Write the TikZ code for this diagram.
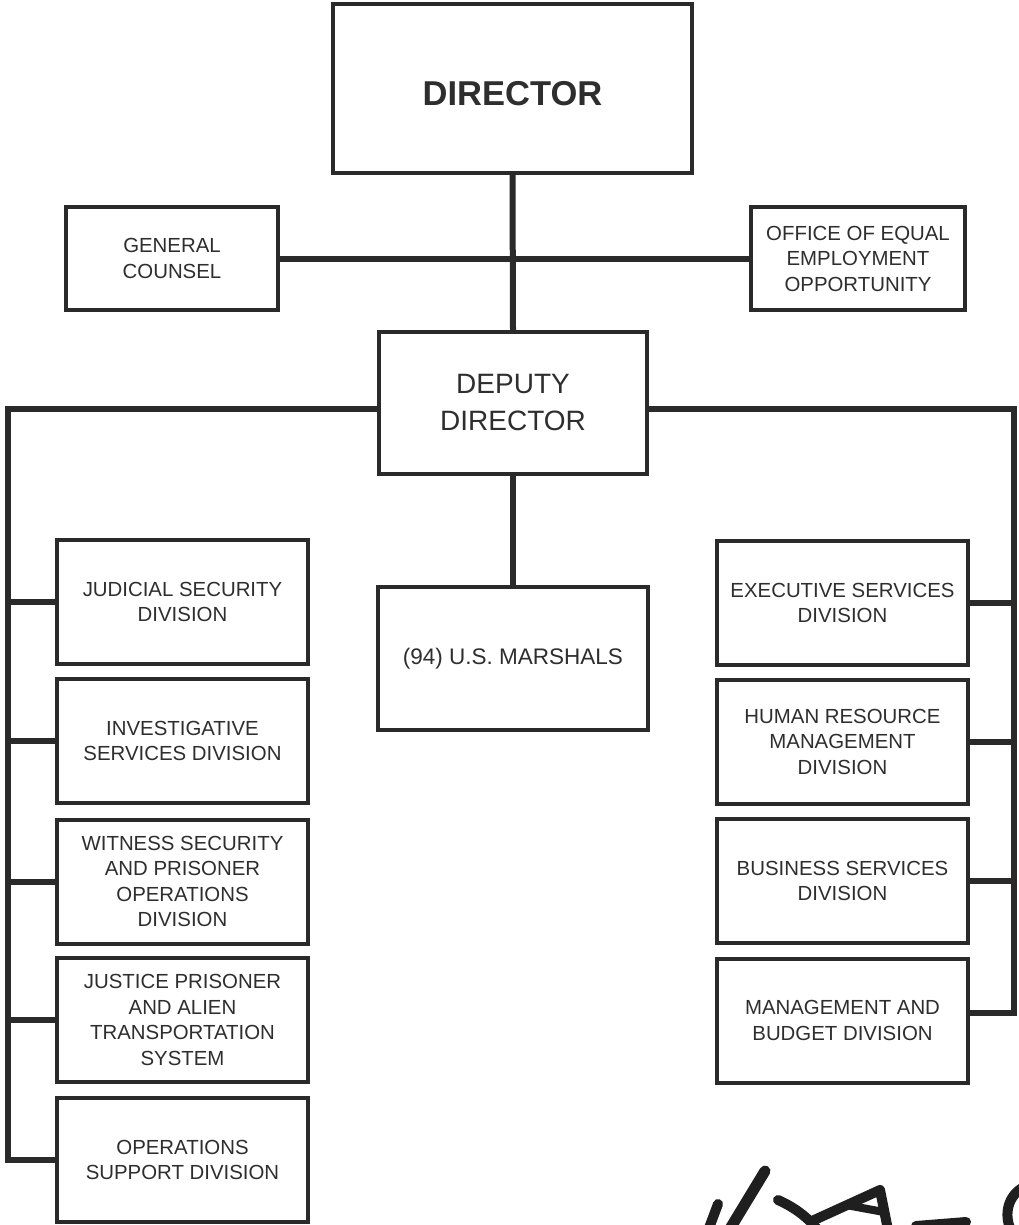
\documentclass[tikz,border=0pt]{standalone}
\usepackage{fontspec}
\setmainfont{Liberation Sans}
\definecolor{ink}{HTML}{2A2A2A}
\definecolor{txt}{HTML}{2E2E2E}
\begin{document}
\begin{tikzpicture}[x=1pt,y=-1pt,
  box/.style={draw=ink,line width=4pt,fill=white,inner sep=0pt,align=center,text=txt,
    font=\fontsize{20.4}{25.5}\selectfont},
  side/.style={box,minimum width=251pt,minimum height=124pt},
  conn/.style={draw=ink,line width=6pt},
  sig/.style={draw=black!88,line width=10pt,line cap=round,line join=round}]
\useasboundingbox (0,0) rectangle (1018,1225);
\fill[white] (0,0) rectangle (1018,1225);

% top level
\node[box,minimum width=359pt,minimum height=169pt,font=\fontsize{34.5}{40}\bfseries] (dir) at (512.5,88.5) {\raisebox{-17pt}[0pt][0pt]{DIRECTOR}};
\node[box,minimum width=212pt,minimum height=103pt] (gc) at (172,258.5) {GENERAL\\COUNSEL};
\node[box,minimum width=214pt,minimum height=103pt] (eeo) at (858,258.5) {OFFICE OF EQUAL\\EMPLOYMENT\\OPPORTUNITY};
\node[box,minimum width=268pt,minimum height=142pt,font=\fontsize{28}{37}\selectfont] (dep) at (513,403) {DEPUTY\\DIRECTOR};
\node[box,minimum width=270pt,minimum height=143pt,font=\fontsize{22.5}{27}\selectfont] (mar) at (513,658.5) {(94) U.S. MARSHALS};

% left column
\node[side] (js) at (182.5,602)  {JUDICIAL SECURITY\\DIVISION};
\node[side] (is) at (182.5,741)  {INVESTIGATIVE\\SERVICES DIVISION};
\node[side] (ws) at (182.5,881.5){WITNESS SECURITY\\AND PRISONER\\OPERATIONS\\DIVISION};
\node[side] (jp) at (182.5,1020) {JUSTICE PRISONER\\AND ALIEN\\TRANSPORTATION\\SYSTEM};
\node[side] (os) at (182.5,1160) {OPERATIONS\\SUPPORT DIVISION};

% right column
\node[side] (es) at (842.5,603)  {EXECUTIVE SERVICES\\DIVISION};
\node[side] (hr) at (842.5,741.5){HUMAN RESOURCE\\MANAGEMENT\\DIVISION};
\node[side] (bs) at (842.5,881)  {BUSINESS SERVICES\\DIVISION};
\node[side] (mg) at (842.5,1020.5){MANAGEMENT AND\\BUDGET DIVISION};

% bus coordinates
\coordinate (lbus) at (8,0);
\coordinate (rbus) at (1014,0);
\coordinate (depl) at ([yshift=-6pt]dep.west);
\coordinate (depr) at ([yshift=-6pt]dep.east);
\coordinate (mgc) at ([yshift=8pt]mg.east);

% connectors
\draw[conn] (dir.south) -- (dep.north);
\draw[conn] (gc.east) -- (eeo.west);
\draw[conn] (dep.south) -- (mar.north);
\draw[conn] (depl) -| (os.west -| lbus) -- (os.west);
\draw[conn] (depr) -| (mgc -| rbus) -- (mgc);
\foreach \n in {js,is,ws,jp} \draw[conn] (\n.west) -- (\n.west -| lbus);
\foreach \n in {es,hr,bs} \draw[conn] (\n.east) -- (\n.east -| rbus);

% signature (partially cut at the bottom edge)
\draw[sig] (709,1228) -- (718,1204);
\draw[sig,line width=11pt] (728,1232) -- (765,1171);
\draw[sig] (778,1200) .. controls (796,1208) and (808,1218) .. (818,1230);
\draw[sig] (812,1221) -- (880,1190) -- (888,1230);
\draw[sig,line width=8pt] (846,1205) -- (884,1212);
\draw[sig] (916,1226) -- (966,1222);
\draw[sig] (1022,1188) .. controls (1006,1198) and (1004,1218) .. (1012,1232);
\end{tikzpicture}
\end{document}
